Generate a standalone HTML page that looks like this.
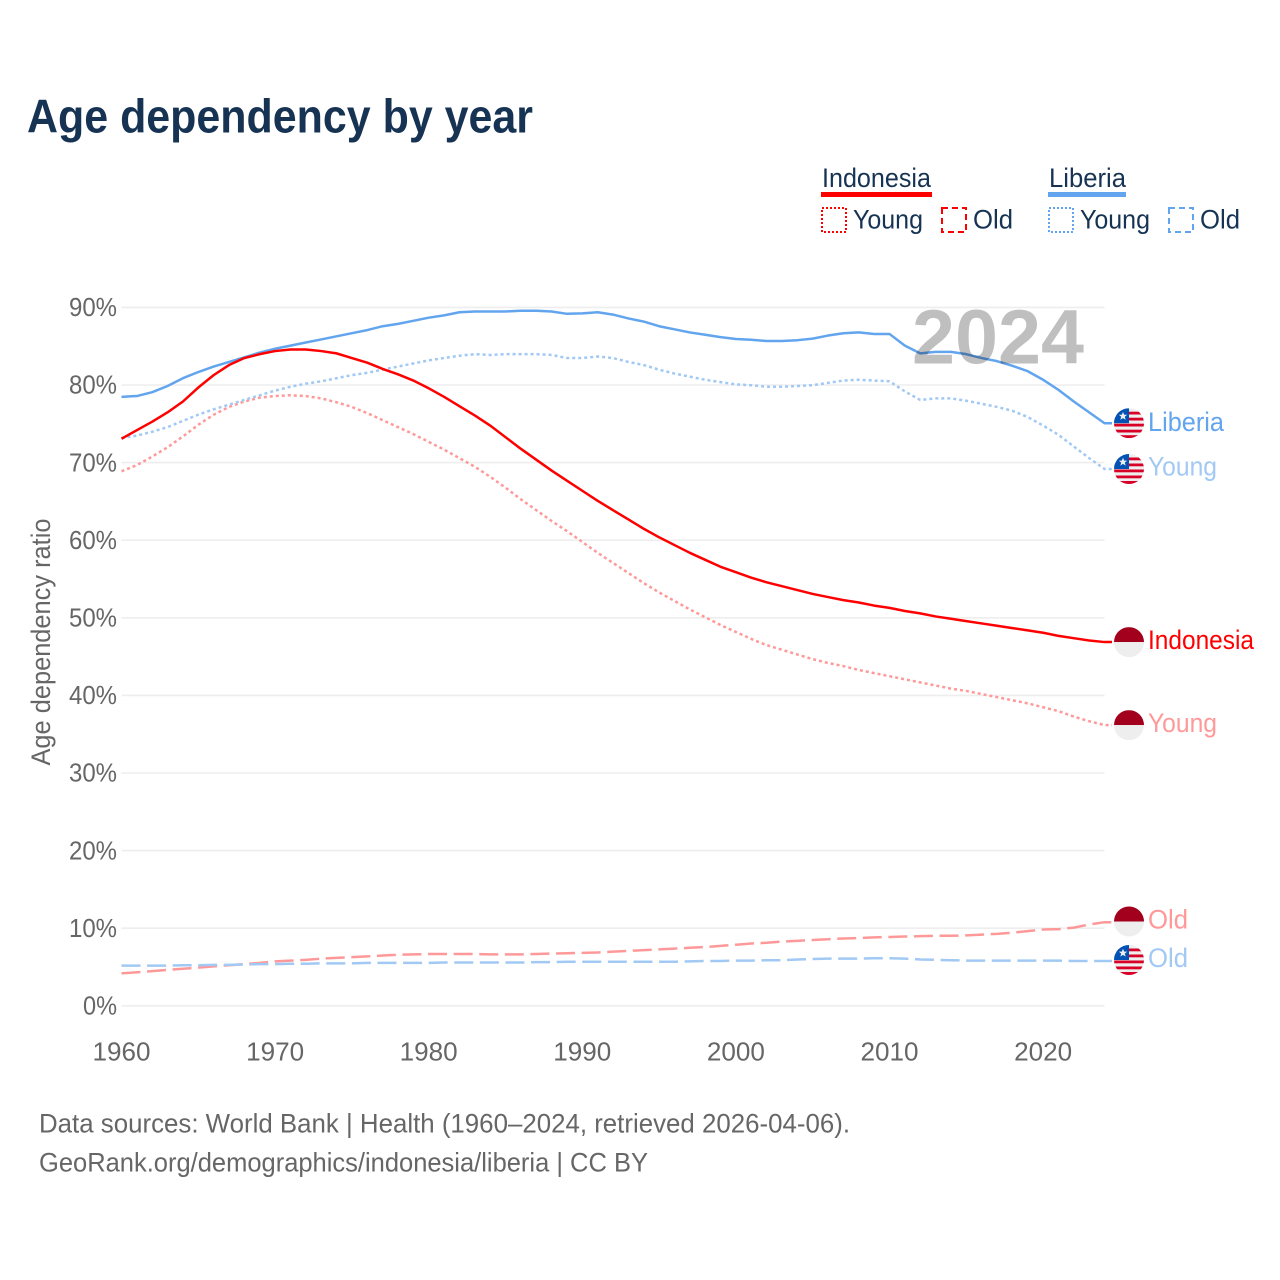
<!DOCTYPE html>
<html lang="en">
<head>
<meta charset="utf-8">
<title>Age dependency by year</title>
<style>
html,body{margin:0;padding:0;background:#fff;}
svg{display:block;}
text{font-family:"Liberation Sans",sans-serif;}
</style>
</head>
<body>
<svg id="chart" xmlns="http://www.w3.org/2000/svg" width="1280" height="1280" viewBox="0 0 1280 1280">
<defs>
<clipPath id="flag-clip"><circle cx="0" cy="0" r="15"/></clipPath>
<g id="flag-id">
<g clip-path="url(#flag-clip)">
<rect x="-15" y="-15" width="30" height="15" fill="#a2001d"/>
<rect x="-15" y="0" width="30" height="15" fill="#eeeeee"/>
</g>
</g>
<g id="flag-lr">
<g clip-path="url(#flag-clip)">
<rect x="-15" y="-15" width="30" height="30" fill="#eeeeee"/>
<rect x="-15" y="-11.5" width="30" height="2.8" fill="#d80027"/>
<rect x="-15" y="-5.5" width="30" height="2.8" fill="#d80027"/>
<rect x="-15" y="0.5" width="30" height="2.8" fill="#d80027"/>
<rect x="-15" y="6.5" width="30" height="2.8" fill="#d80027"/>
<rect x="-15" y="12" width="30" height="3" fill="#d80027"/>
<rect x="-15" y="-15" width="15" height="15" fill="#0052b4"/>
<polygon points="-6,-11.2 -4.8,-8.4 -1.8,-8.4 -4.2,-6.4 -3.3,-3.4 -6,-5.1 -8.7,-3.4 -7.8,-6.4 -10.2,-8.4 -7.2,-8.4" fill="#eeeeee"/>
</g>
</g>
</defs>

<text x="27" y="132.5" font-size="47" font-weight="700" fill="#173353" textLength="506" lengthAdjust="spacingAndGlyphs">Age dependency by year</text>

<g>
<g>
<text x="822" y="187" font-size="26.5" fill="#173353" textLength="109" lengthAdjust="spacingAndGlyphs">Indonesia</text>
<rect x="821" y="192" width="111" height="5" fill="#ff0000"/>
<rect x="822" y="208" width="24" height="24" fill="none" stroke="#ff0000" stroke-width="2" stroke-dasharray="2 2"/>
<text x="853" y="228.5" font-size="26.5" fill="#173353" textLength="70" lengthAdjust="spacingAndGlyphs">Young</text>
<rect x="942" y="208" width="24" height="24" fill="none" stroke="#ff0000" stroke-width="2" stroke-dasharray="6 4"/>
<text x="973" y="228.5" font-size="26.5" fill="#173353" textLength="40" lengthAdjust="spacingAndGlyphs">Old</text>
</g>
<g>
<text x="1049" y="187" font-size="26.5" fill="#173353" textLength="77" lengthAdjust="spacingAndGlyphs">Liberia</text>
<rect x="1048" y="192" width="78" height="5" fill="#62a5ee"/>
<rect x="1049" y="208" width="24" height="24" fill="none" stroke="#62a5ee" stroke-width="2" stroke-dasharray="2 2"/>
<text x="1080" y="228.5" font-size="26.5" fill="#173353" textLength="70" lengthAdjust="spacingAndGlyphs">Young</text>
<rect x="1169" y="208" width="24" height="24" fill="none" stroke="#62a5ee" stroke-width="2" stroke-dasharray="6 4"/>
<text x="1200" y="228.5" font-size="26.5" fill="#173353" textLength="40" lengthAdjust="spacingAndGlyphs">Old</text>
</g>
</g>

<text transform="translate(50,642) rotate(-90)" text-anchor="middle" font-size="26.5" fill="#666666" textLength="247" lengthAdjust="spacingAndGlyphs">Age dependency ratio</text>

<g id="grid"></g>
<g id="y-ticks"></g>
<g id="x-ticks"></g>
<g id="lines"></g>
<g id="end-labels"></g>

<text x="912" y="363.5" font-size="77" font-weight="700" fill="#000000" fill-opacity="0.25" textLength="172" lengthAdjust="spacingAndGlyphs">2024</text>

<text x="39" y="1132.5" font-size="26.5" fill="#666666" textLength="811" lengthAdjust="spacingAndGlyphs">Data sources: World Bank | Health (1960–2024, retrieved 2026-04-06).</text>
<text x="39" y="1171.5" font-size="26.5" fill="#666666" textLength="609" lengthAdjust="spacingAndGlyphs">GeoRank.org/demographics/indonesia/liberia | CC BY</text>
</svg>

<script>
var startYear = 1960;
var yTickValues = [0, 10, 20, 30, 40, 50, 60, 70, 80, 90];
var xTickValues = [1960, 1970, 1980, 1990, 2000, 2010, 2020];

var liberiaTotal = [78.5,78.6,79.1,79.9,80.9,81.7,82.4,83.0,83.6,84.2,84.7,85.1,85.5,85.9,86.3,86.7,87.1,87.6,87.9,88.3,88.7,89.0,89.4,89.5,89.5,89.5,89.6,89.6,89.5,89.2,89.25,89.4,89.1,88.6,88.2,87.6,87.2,86.8,86.5,86.2,85.95,85.85,85.7,85.7,85.8,86.0,86.4,86.7,86.8,86.6,86.6,85.1,84.1,84.3,84.3,84.0,83.5,83.1,82.5,81.8,80.7,79.4,77.9,76.5,75.1];
var liberiaYoung = [73.2,73.5,74.0,74.6,75.4,76.2,76.9,77.5,78.1,78.7,79.3,79.8,80.2,80.5,80.9,81.3,81.6,82.0,82.4,82.8,83.2,83.5,83.8,84.0,83.9,84.0,84.0,84.0,83.9,83.5,83.5,83.7,83.5,83.0,82.6,82.0,81.5,81.1,80.7,80.4,80.1,80.0,79.8,79.8,79.9,80.0,80.3,80.6,80.7,80.6,80.5,79.2,78.1,78.3,78.3,78.0,77.6,77.2,76.7,75.9,74.8,73.6,72.1,70.6,69.2];
var liberiaOld = [5.2,5.2,5.2,5.2,5.25,5.25,5.3,5.3,5.35,5.4,5.4,5.45,5.45,5.5,5.5,5.5,5.55,5.55,5.55,5.55,5.55,5.6,5.6,5.6,5.6,5.6,5.6,5.65,5.65,5.7,5.7,5.7,5.7,5.7,5.7,5.7,5.7,5.75,5.8,5.8,5.85,5.85,5.9,5.9,6.0,6.05,6.1,6.1,6.1,6.15,6.15,6.1,6.0,5.95,5.9,5.85,5.85,5.85,5.85,5.85,5.85,5.85,5.8,5.8,5.8];

var indonesiaTotal = [73.1,74.2,75.3,76.5,77.9,79.7,81.3,82.6,83.5,84.0,84.4,84.6,84.6,84.4,84.1,83.5,82.9,82.1,81.4,80.6,79.6,78.5,77.3,76.1,74.8,73.3,71.8,70.4,69.0,67.7,66.4,65.1,63.9,62.7,61.5,60.4,59.4,58.4,57.5,56.6,55.9,55.2,54.6,54.1,53.6,53.1,52.7,52.3,52.0,51.6,51.3,50.9,50.6,50.2,49.9,49.6,49.3,49.0,48.7,48.4,48.1,47.7,47.4,47.1,46.9];
var indonesiaYoung = [68.9,69.7,70.8,72.0,73.4,74.9,76.2,77.2,77.9,78.4,78.6,78.7,78.6,78.3,77.8,77.2,76.4,75.5,74.6,73.7,72.7,71.7,70.6,69.5,68.2,66.8,65.3,63.9,62.5,61.2,59.8,58.4,57.1,55.8,54.5,53.3,52.2,51.1,50.1,49.1,48.2,47.3,46.5,45.9,45.3,44.7,44.2,43.8,43.3,42.9,42.5,42.1,41.7,41.3,40.9,40.6,40.2,39.8,39.4,39.0,38.5,38.0,37.3,36.7,36.2];
var indonesiaOld = [4.2,4.35,4.5,4.65,4.8,4.95,5.1,5.25,5.4,5.55,5.75,5.85,5.95,6.1,6.2,6.3,6.4,6.5,6.6,6.65,6.7,6.7,6.7,6.7,6.65,6.65,6.65,6.7,6.75,6.8,6.85,6.9,7.0,7.1,7.2,7.3,7.4,7.5,7.6,7.75,7.9,8.05,8.15,8.3,8.4,8.5,8.6,8.7,8.75,8.85,8.9,8.95,9.0,9.05,9.05,9.1,9.2,9.3,9.45,9.65,9.85,9.9,10.1,10.5,10.8];

var labelNames = ["Liberia", "Young", "Indonesia", "Young", "Old", "Old"];

var svgNS = "http://www.w3.org/2000/svg";
var plotLeft = 121.5, pxPerYear = 15.36, plotBottom = 1006, pxPerPct = 7.76, plotRight = 1104.5;

function xScale(year) { return plotLeft + (year - startYear) * pxPerYear; }
function yScale(v) { return plotBottom - v * pxPerPct; }

function make(tag, attrs, parent) {
  var el = document.createElementNS(svgNS, tag);
  for (var k in attrs) { el.setAttribute(k, attrs[k]); }
  parent.appendChild(el);
  return el;
}

var gridGroup = document.getElementById("grid");
var yTickGroup = document.getElementById("y-ticks");
var xTickGroup = document.getElementById("x-ticks");
var lineGroup = document.getElementById("lines");
var labelGroup = document.getElementById("end-labels");

yTickValues.forEach(function (v) {
  var g = make("line", {x1: plotLeft, x2: plotRight, y1: yScale(v) - 0.2, y2: yScale(v) - 0.2, stroke: "#eeeeee", "stroke-width": 1.6}, gridGroup);
  
  
  var t = make("text", {x: 117, y: yScale(v) + 8.5, "text-anchor": "end", "font-size": 25.5, fill: "#666666", textLength: v === 0 ? 34 : 48, lengthAdjust: "spacingAndGlyphs"}, yTickGroup);
  t.textContent = v + "%";
  
  
});

xTickValues.forEach(function (yr) {
  var t = make("text", {x: xScale(yr), y: 1060.5, "text-anchor": "middle", "font-size": 25.5, fill: "#666666", textLength: 58, lengthAdjust: "spacingAndGlyphs"}, xTickGroup);
  t.textContent = String(yr);
  
  
});

function drawSeries(values, color, dash, flagId, labelIndex, labelColor, flagShift, textShift, labelWidth, seriesName) {
  var pts = values.map(function (v, i) { return xScale(startYear + i).toFixed(2) + "," + yScale(v).toFixed(2); });
  var last = values[values.length - 1];
  pts.push("1112," + yScale(last).toFixed(2));
  var attrs = {points: pts.join(" "), fill: "none", stroke: color, "stroke-width": 2.5, "stroke-linejoin": "round"};
  if (dash) { attrs["stroke-dasharray"] = dash; }
  var line = make("polyline", attrs, lineGroup);
  
  

  var flagY = yScale(last) + flagShift;
  var flag = make("use", {href: "#" + flagId, transform: "translate(1129," + flagY.toFixed(1) + ")"}, labelGroup);
  
  
  var t = make("text", {x: 1148, y: (flagY + textShift).toFixed(1), "font-size": 26.5, fill: labelColor, textLength: labelWidth, lengthAdjust: "spacingAndGlyphs"}, labelGroup);
  t.textContent = labelNames[labelIndex];
  
  
}

var dotted = "3 3";
var dashed = "19 6.6";
drawSeries(indonesiaOld, "#ff9999", dashed, "flag-id", 4, "#ff9999", -0.7, 7, 40, "indonesia-old-line");
drawSeries(liberiaOld, "#a1c9f4", dashed, "flag-lr", 5, "#a1c9f4", -1, 7, 40, "liberia-old-line");
drawSeries(indonesiaYoung, "#ff9999", dotted, "flag-id", 3, "#ff9999", 0, 7, 69, "indonesia-young-line");
drawSeries(liberiaYoung, "#a1c9f4", dotted, "flag-lr", 1, "#a1c9f4", 0, 6.5, 69, "liberia-young-line");
drawSeries(liberiaTotal, "#62a5ee", null, "flag-lr", 0, "#62a5ee", 0, 8, 76, "liberia-total-line");
drawSeries(indonesiaTotal, "#ff0000", null, "flag-id", 2, "#ff0000", 0, 7, 106, "indonesia-total-line");
</script>
</body>
</html>
